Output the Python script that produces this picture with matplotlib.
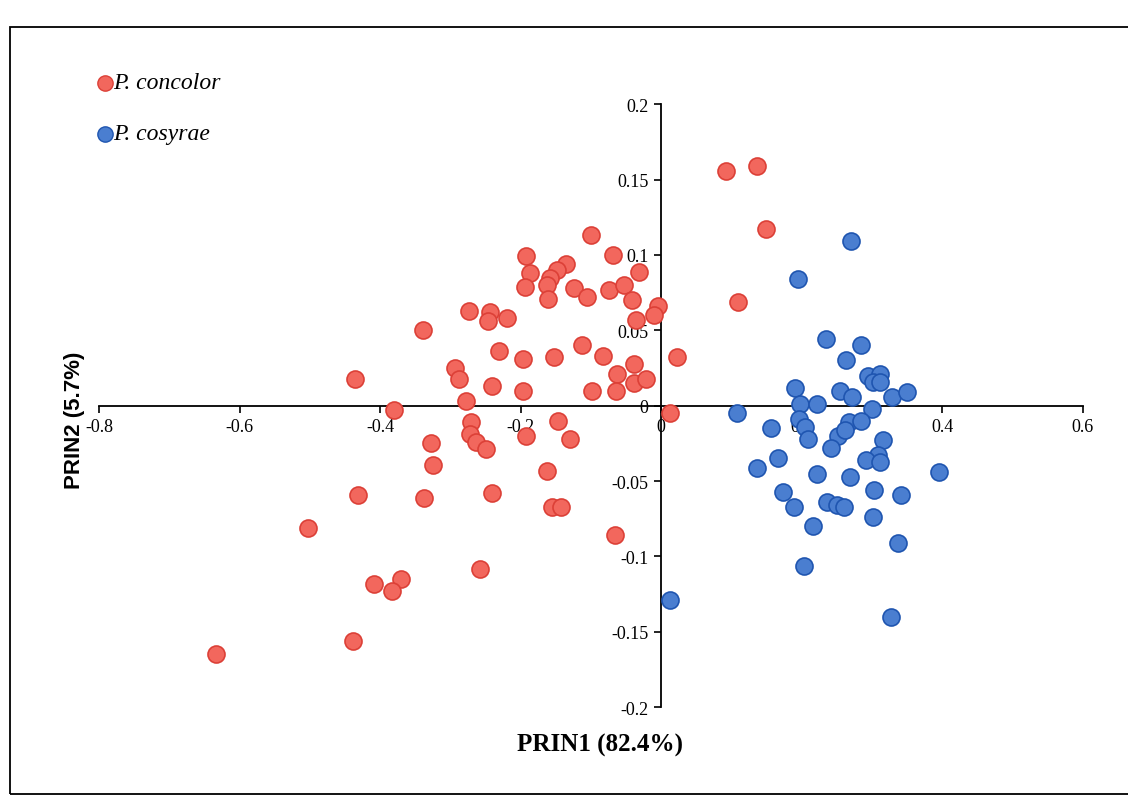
import matplotlib
matplotlib.use("Agg")
import matplotlib.pyplot as plt
from matplotlib.patches import Rectangle
from matplotlib.lines import Line2D
import numpy as np

# PCA scores
concolor_x = [-0.100, -0.193, -0.069, -0.031, -0.186, -0.194, -0.136, -0.148, -0.158, -0.162,
              -0.161, -0.124, -0.106, -0.074, -0.053, -0.041, -0.004, -0.010, -0.036, -0.274,
              -0.244, -0.246, -0.219, -0.339, -0.231, -0.196, -0.153, -0.112, -0.082, -0.038,
              0.022, -0.294, -0.288, -0.435, -0.241, -0.197, -0.099, -0.063, -0.064, -0.038,
              -0.022, -0.277, -0.380, 0.013, -0.271, -0.272, -0.264, -0.249, -0.193, -0.147,
              -0.130, -0.327, -0.325, -0.163, -0.432, -0.337, -0.240, -0.155, -0.143, -0.066,
              -0.503, -0.258, -0.408, -0.370, -0.383, -0.439, -0.634, 0.093, 0.136, 0.149, 0.109]
concolor_y = [0.113, 0.099, 0.100, 0.089, 0.088, 0.079, 0.094, 0.090, 0.085, 0.080,
              0.071, 0.078, 0.072, 0.077, 0.080, 0.070, 0.066, 0.060, 0.057, 0.063,
              0.062, 0.056, 0.058, 0.050, 0.036, 0.031, 0.032, 0.040, 0.033, 0.028,
              0.032, 0.025, 0.018, 0.018, 0.013, 0.010, 0.010, 0.021, 0.010, 0.015,
              0.018, 0.003, -0.003, -0.005, -0.011, -0.019, -0.024, -0.029, -0.020, -0.010,
              -0.022, -0.025, -0.039, -0.043, -0.059, -0.061, -0.058, -0.067, -0.067, -0.086,
              -0.081, -0.108, -0.118, -0.115, -0.123, -0.156, -0.165, 0.156, 0.159, 0.117, 0.069]

cosyrae_x = [0.270, 0.195, 0.235, 0.285, 0.263, 0.294, 0.311, 0.301, 0.312, 0.190,
             0.254, 0.272, 0.329, 0.350, 0.108, 0.198, 0.222, 0.300, 0.196, 0.205,
             0.209, 0.156, 0.267, 0.284, 0.252, 0.262, 0.242, 0.316, 0.308, 0.291,
             0.311, 0.166, 0.137, 0.222, 0.269, 0.396, 0.173, 0.303, 0.342, 0.189,
             0.236, 0.250, 0.260, 0.302, 0.216, 0.337, 0.204, 0.327, 0.013]
cosyrae_y = [0.109, 0.084, 0.044, 0.040, 0.030, 0.020, 0.021, 0.016, 0.016, 0.012,
             0.010, 0.006, 0.006, 0.009, -0.005, 0.001, 0.001, -0.002, -0.009, -0.014,
             -0.022, -0.015, -0.011, -0.010, -0.020, -0.016, -0.028, -0.023, -0.033, -0.036,
             -0.037, -0.035, -0.041, -0.045, -0.047, -0.044, -0.057, -0.056, -0.059, -0.067,
             -0.064, -0.066, -0.067, -0.074, -0.080, -0.091, -0.106, -0.140, -0.129]

xticks = [-0.8, -0.6, -0.4, -0.2, 0, 0.2, 0.4, 0.6]
xlabels = ["-0.8", "-0.6", "-0.4", "-0.2", "0", "0.2", "0.4", "0.6"]
yticks = [-0.2, -0.15, -0.1, -0.05, 0, 0.05, 0.1, 0.15, 0.2]
ylabels = ["-0.2", "-0.15", "-0.1", "-0.05", "0", "0.05", "0.1", "0.15", "0.2"]

red_face, red_edge = "#F2675D", "#DC4037"
blue_face, blue_edge = "#4A7ED0", "#1F55B0"
serif = "Liberation Serif"

fig = plt.figure(figsize=(11.28, 8.03), dpi=100)
ax = fig.add_axes([0.0878, 0.118, 0.872, 0.751])

ax.scatter(concolor_x, concolor_y, s=150, c=red_face, edgecolors=red_edge, linewidths=1.2, zorder=3)
ax.scatter(cosyrae_x, cosyrae_y, s=150, c=blue_face, edgecolors=blue_edge, linewidths=1.2, zorder=3)

ax.set_xlim(-0.8, 0.6)
ax.set_ylim(-0.2, 0.2)
for s in ["top", "right"]:
    ax.spines[s].set_visible(False)
ax.spines["left"].set_position(("data", 0))
ax.spines["bottom"].set_position(("data", 0))
ax.spines["left"].set_linewidth(1.3)
ax.spines["bottom"].set_linewidth(1.3)

ax.set_xticks(xticks)
ax.set_xticklabels(xlabels, fontname=serif, size=13)
ax.set_yticks(yticks)
ax.set_yticklabels(ylabels, fontname=serif, size=13)
ax.tick_params(direction="out", length=5, width=1.2, pad=4)

fig.text(0.532, 0.072, "PRIN1 (82.4%)", fontname=serif, fontweight="bold",
         size=18, ha="center", va="center")
fig.text(0.066, 0.476, "PRIN2 (5.7%)", family=["Liberation Sans Narrow", "Liberation Sans"],
         fontweight="bold", size=16, rotation=90, ha="center", va="center")

handles = [Line2D([], [], ls="", marker="o", ms=11, mfc=red_face, mec=red_edge),
           Line2D([], [], ls="", marker="o", ms=11, mfc=blue_face, mec=blue_edge)]
leg = fig.legend(handles, ["P. concolor", "P. cosyrae"], loc="upper left",
                 bbox_to_anchor=(0.083, 0.918), frameon=False, labelspacing=2.2,
                 handlelength=0.6, handletextpad=0.3, borderpad=0)
plt.setp(leg.get_texts(), family=serif, style="italic", size=17)

fig.add_artist(Rectangle((0.009, 0.01), 1.05, 0.955, transform=fig.transFigure,
                         fill=False, lw=1.3, edgecolor="black", clip_on=False))

fig.savefig("out.png", dpi=100)
